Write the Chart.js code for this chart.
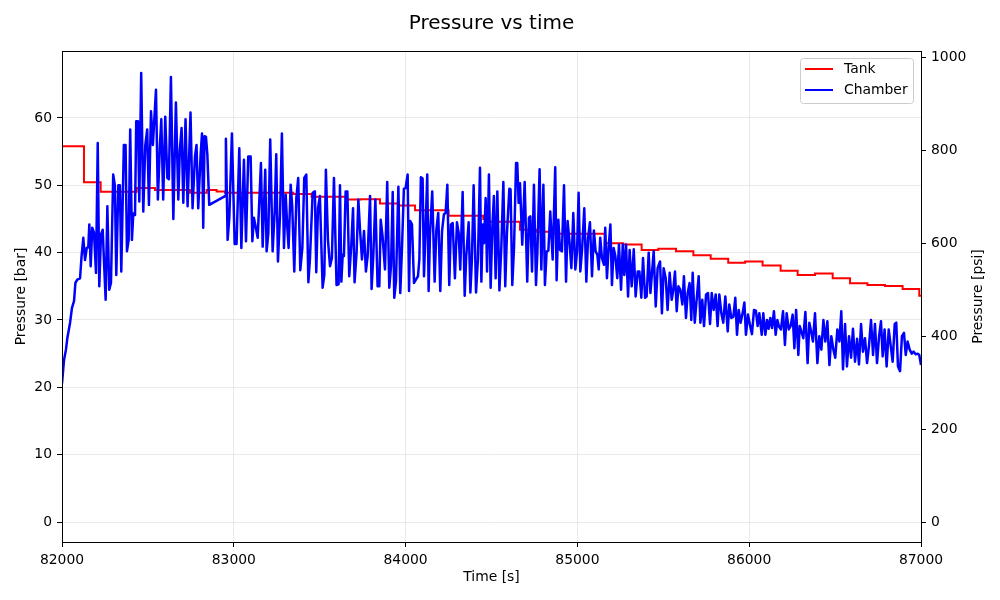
<!DOCTYPE html>
<html>
<head>
<meta charset="utf-8">
<title>Pressure vs time</title>
<script src="https://cdn.jsdelivr.net/npm/chart.js@4.4.1/dist/chart.umd.min.js"></script>
<style>
    html, body { margin: 0; padding: 0; background: #fff; }
    #wrap { width: 1000px; height: 600px; }
</style>
</head>
<body>
<div id="wrap"><canvas id="pressure-chart" width="1000" height="600"></canvas></div>
<script>
'use strict';

/**
 * Tick values
 */
var timeTicks = [82000, 83000, 84000, 85000, 86000, 87000];
var barTicks = [0, 10, 20, 30, 40, 50, 60];
var psiTicks = [0, 200, 400, 600, 800, 1000];

/**
 * Tank pressure [bar], value holds until the next time
 */
var tankTime = [
    82000, 82128, 82225, 82435, 82541, 82745, 82842, 82900, 82949, 83346,
    83453, 83657, 83740, 83851, 83958, 84055, 84250, 84452, 84470, 84666,
    84760, 84840, 85160, 85267, 85374, 85471, 85574, 85675, 85776, 85878,
    85976, 86078, 86183, 86282, 86383, 86486, 86587, 86688, 86790, 86893,
    86990, 87000
];
var tankBar = [
    55.8, 50.45, 49.06, 49.6, 49.3, 48.9, 49.3, 49.1, 48.9, 48.7,
    48.3, 47.9, 47.95, 47.3, 47.0, 46.3, 45.5, 45.0, 44.6, 43.4,
    43.1, 42.8, 41.4, 41.2, 40.4, 40.6, 40.2, 39.6, 39.1, 38.5,
    38.7, 38.1, 37.3, 36.7, 36.9, 36.2, 35.45, 35.2, 35.05, 34.6,
    33.6, 33.5
];

/**
 * Chamber pressure [bar]
 */
var chamberTime = [
    82000, 82012, 82023, 82031, 82047, 82058, 82070, 82078, 82089, 82105,
    82114, 82124, 82134, 82144, 82153, 82159, 82167, 82176, 82186, 82198,
    82208, 82217, 82227, 82237, 82244, 82254, 82264, 82275, 82285, 82298,
    82308, 82316, 82328, 82337, 82345, 82360, 82370, 82378, 82388, 82397,
    82407, 82415, 82425, 82432, 82442, 82450, 82461, 82473, 82485, 82496,
    82506, 82518, 82529, 82547, 82558, 82570, 82578, 82589, 82601, 82613,
    82622, 82634, 82648, 82663, 82677, 82686, 82696, 82706, 82719, 82731,
    82748, 82760, 82774, 82783, 82793, 82807, 82815, 82822, 82830, 82838,
    82846, 82857, 82949, 82954, 82964, 82974, 82989, 83005, 83016, 83032,
    83044, 83059, 83071, 83084, 83098, 83108, 83117, 83127, 83139, 83158,
    83168, 83183, 83191, 83201, 83212, 83226, 83238, 83247, 83257, 83269,
    83280, 83292, 83302, 83311, 83319, 83331, 83340, 83352, 83364, 83375,
    83387, 83399, 83410, 83422, 83434, 83443, 83459, 83472, 83480, 83490,
    83501, 83517, 83527, 83536, 83548, 83560, 83571, 83583, 83598, 83610,
    83618, 83626, 83634, 83641, 83651, 83661, 83672, 83684, 83694, 83703,
    83715, 83725, 83734, 83746, 83758, 83769, 83779, 83793, 83802, 83812,
    83824, 83837, 83847, 83855, 83866, 83880, 83893, 83905, 83915, 83925,
    83934, 83944, 83958, 83969, 83979, 83990, 84000, 84012, 84020, 84027,
    84037, 84049, 84060, 84072, 84080, 84089, 84099, 84107, 84115, 84126,
    84134, 84142, 84155, 84169, 84179, 84190, 84202, 84212, 84223, 84233,
    84243, 84254, 84264, 84274, 84287, 84299, 84309, 84318, 84332, 84344,
    84353, 84367, 84377, 84386, 84396, 84410, 84421, 84433, 84441, 84449,
    84456, 84466, 84474, 84485, 84495, 84505, 84514, 84524, 84534, 84546,
    84557, 84569, 84580, 84590, 84604, 84611, 84621, 84631, 84643, 84650,
    84658, 84666, 84679, 84693, 84708, 84718, 84726, 84736, 84747, 84759,
    84767, 84780, 84790, 84802, 84811, 84821, 84831, 84842, 84856, 84871,
    84879, 84889, 84899, 84910, 84922, 84934, 84943, 84953, 84965, 84976,
    84988, 84998, 85007, 85017, 85027, 85040, 85052, 85062, 85073, 85085,
    85096, 85106, 85116, 85124, 85133, 85143, 85155, 85162, 85172, 85182,
    85192, 85201, 85211, 85221, 85232, 85242, 85254, 85264, 85273, 85283,
    85295, 85304, 85316, 85328, 85339, 85351, 85361, 85372, 85382, 85394,
    85403, 85415, 85425, 85436, 85444, 85456, 85467, 85481, 85492, 85502,
    85514, 85525, 85537, 85549, 85558, 85568, 85578, 85588, 85599, 85611,
    85620, 85632, 85642, 85653, 85663, 85671, 85683, 85694, 85706, 85716,
    85727, 85737, 85749, 85760, 85772, 85782, 85793, 85805, 85816, 85826,
    85838, 85849, 85861, 85875, 85884, 85896, 85908, 85919, 85929, 85939,
    85950, 85960, 85972, 85981, 85993, 86005, 86016, 86028, 86039, 86049,
    86059, 86073, 86082, 86094, 86104, 86113, 86123, 86133, 86144, 86154,
    86164, 86174, 86185, 86197, 86208, 86218, 86230, 86241, 86253, 86263,
    86273, 86286, 86294, 86306, 86315, 86327, 86340, 86350, 86362, 86371,
    86383, 86397, 86408, 86420, 86432, 86443, 86455, 86467, 86478, 86490,
    86501, 86513, 86525, 86536, 86546, 86558, 86569, 86581, 86593, 86604,
    86616, 86628, 86639, 86651, 86662, 86674, 86686, 86697, 86709, 86721,
    86732, 86744, 86756, 86767, 86777, 86788, 86800, 86812, 86823, 86835,
    86847, 86856, 86866, 86878, 86889, 86901, 86911, 86922, 86934, 86946,
    86957, 86969, 86981, 86990, 87000
];
var chamberBar = [
    20.6, 24.1, 25.6, 27.3, 29.6, 31.8, 32.8, 35.5, 36.0, 36.2,
    39.5, 42.2, 38.9, 40.7, 40.8, 44.2, 38.0, 43.7, 43.0, 37.0,
    56.3, 35.0, 42.7, 43.4, 38.9, 33.0, 46.9, 34.5, 35.5, 51.6,
    49.9, 36.7, 50.0, 50.0, 37.2, 56.0, 56.0, 40.2, 41.9, 58.3,
    41.9, 45.8, 45.6, 59.5, 59.5, 47.6, 66.7, 46.1, 56.0, 58.3,
    47.1, 61.0, 56.0, 64.2, 47.9, 56.0, 59.8, 47.9, 60.2, 51.1,
    50.9, 66.1, 45.0, 62.3, 47.9, 55.3, 58.5, 47.4, 59.8, 46.9,
    60.8, 46.6, 54.3, 56.0, 46.6, 54.6, 57.7, 43.7, 57.3, 57.2,
    54.6, 47.1, 48.4, 56.9, 41.9, 45.2, 57.7, 41.3, 41.3, 55.5,
    40.7, 53.8, 41.7, 54.3, 54.3, 41.7, 45.2, 43.9, 42.2, 53.3,
    40.9, 52.3, 40.2, 42.9, 56.8, 40.2, 46.1, 54.6, 38.7, 45.6,
    57.7, 40.7, 48.6, 43.9, 40.7, 50.1, 46.9, 37.2, 48.1, 51.1,
    37.4, 40.7, 51.1, 51.6, 35.6, 39.0, 48.9, 49.1, 37.1, 46.6,
    48.4, 34.8, 36.7, 52.3, 41.9, 38.0, 39.2, 51.1, 35.2, 35.3,
    50.0, 35.7, 39.7, 39.5, 49.1, 49.1, 36.5, 41.2, 46.6, 35.6,
    40.2, 47.9, 43.7, 39.0, 43.2, 37.2, 39.5, 48.4, 34.6, 39.5,
    47.9, 35.0, 35.0, 44.9, 42.4, 37.5, 50.5, 34.8, 38.0, 49.0,
    33.3, 35.7, 49.8, 34.0, 40.7, 49.5, 49.6, 51.6, 34.3, 44.7,
    44.2, 35.5, 36.0, 36.5, 39.0, 51.2, 51.0, 36.5, 42.4, 51.6,
    34.3, 42.7, 49.1, 35.7, 43.4, 45.9, 34.3, 43.2, 45.7, 45.9,
    50.1, 35.2, 44.2, 44.4, 36.2, 44.5, 42.9, 37.5, 49.0, 33.6,
    39.5, 44.5, 34.1, 39.0, 50.0, 34.1, 39.0, 52.6, 35.7, 44.2,
    41.4, 48.1, 37.2, 51.6, 34.8, 43.9, 48.4, 36.2, 49.1, 34.4,
    40.7, 50.5, 35.0, 42.9, 49.5, 49.4, 35.2, 40.7, 53.3, 53.3,
    47.4, 50.3, 41.2, 50.5, 35.7, 45.2, 45.4, 37.2, 50.1, 35.2,
    40.0, 52.4, 37.5, 50.1, 35.2, 40.2, 40.3, 46.1, 39.0, 52.7,
    35.9, 44.9, 40.4, 40.2, 50.0, 35.7, 44.7, 41.9, 37.7, 45.9,
    37.5, 40.2, 48.9, 37.2, 40.4, 46.6, 35.7, 42.2, 44.5, 36.5,
    43.3, 40.2, 39.7, 37.5, 42.2, 39.2, 38.2, 43.7, 36.2, 40.9,
    44.2, 35.2, 40.7, 39.5, 36.2, 41.2, 34.5, 41.2, 36.7, 41.2,
    33.5, 40.4, 35.0, 40.5, 33.5, 37.2, 37.2, 33.3, 39.2, 33.3,
    33.5, 40.0, 34.0, 37.6, 40.2, 32.0, 37.7, 38.7, 31.0, 37.7,
    36.2, 31.5, 37.0, 33.0, 34.5, 37.2, 31.3, 35.0, 34.5, 32.3,
    36.5, 30.3, 34.0, 35.5, 30.0, 37.0, 29.6, 33.0, 36.5, 29.6,
    33.0, 29.1, 33.8, 34.0, 29.4, 34.0, 31.5, 33.8, 29.1, 33.8,
    31.0, 29.6, 33.5, 28.3, 32.3, 30.3, 30.5, 33.3, 27.8, 31.5,
    29.6, 30.8, 32.6, 27.8, 30.8, 29.2, 27.9, 31.5, 31.4, 29.1,
    31.0, 27.8, 31.0, 27.8, 30.0, 28.7, 30.3, 28.8, 31.3, 27.8,
    30.0, 29.0, 28.6, 31.3, 26.3, 31.0, 28.6, 29.1, 30.8, 25.8,
    31.5, 24.8, 29.1, 28.1, 27.3, 31.2, 23.6, 29.6, 28.1, 26.8,
    31.0, 23.6, 27.6, 25.6, 30.0, 26.8, 29.8, 23.3, 27.6, 25.6,
    24.4, 28.6, 26.8, 31.3, 22.7, 29.4, 23.1, 27.6, 24.4, 28.7,
    23.8, 27.2, 23.4, 29.4, 25.3, 27.3, 23.6, 26.1, 30.0, 24.8,
    29.4, 23.6, 27.6, 29.8, 24.6, 28.6, 23.1, 28.6, 26.3, 23.8,
    29.4, 29.6, 23.1, 22.4, 27.6, 28.1, 24.8, 26.8, 25.6, 25.0,
    25.3, 24.9, 25.0, 24.8, 23.3
];

/**
 * Axis ranges
 */
var PSI_PER_BAR = 14.5038;
var BAR_MIN = -2.97;
var BAR_MAX = 69.95;
var FONT = "'DejaVu Sans', 'Liberation Sans', sans-serif";

/**
 * Pair up x and y arrays
 */
function toPoints(xs, ys) {
    return xs.map(function(x, i) {
        return { x: x, y: ys[i] };
    });
}

/**
 * Replace auto ticks by a fixed list
 */
function fixedTicks(values) {
    return function(scale) {
        scale.ticks = values.map(function(v) { return { value: v }; });
    };
}

function plainLabel(value) {
    return String(value);
}

/**
 * Frame, title, axis labels and legend box (matplotlib look)
 */
var decorations = {
    id: 'decorations',
    afterDraw: function(chart) {
        var ctx = chart.ctx;
        var a = chart.chartArea;
        ctx.save();

        // axes frame
        ctx.strokeStyle = '#000';
        ctx.lineWidth = 1;
        ctx.strokeRect(Math.round(a.left) + 0.5, Math.round(a.top) + 0.5,
            Math.round(a.right - a.left), Math.round(a.bottom - a.top));

        // title
        ctx.fillStyle = '#000';
        ctx.textAlign = 'center';
        ctx.textBaseline = 'middle';
        ctx.font = '20px ' + FONT;
        ctx.fillText('Pressure vs time', (a.left + a.right) / 2, 24);

        // axis labels
        ctx.font = '13.9px ' + FONT;
        ctx.fillText('Time [s]', (a.left + a.right) / 2, 577);

        ctx.save();
        ctx.translate(21, (a.top + a.bottom) / 2);
        ctx.rotate(-Math.PI / 2);
        ctx.fillText('Pressure [bar]', 0, 0);
        ctx.restore();

        ctx.save();
        ctx.translate(978, (a.top + a.bottom) / 2);
        ctx.rotate(-Math.PI / 2);
        ctx.fillText('Pressure [psi]', 0, 0);
        ctx.restore();

        // legend
        var bx = 800.5, by = 58.5, bw = 113, bh = 45, r = 3;
        ctx.beginPath();
        ctx.moveTo(bx + r, by);
        ctx.lineTo(bx + bw - r, by);
        ctx.arcTo(bx + bw, by, bx + bw, by + r, r);
        ctx.lineTo(bx + bw, by + bh - r);
        ctx.arcTo(bx + bw, by + bh, bx + bw - r, by + bh, r);
        ctx.lineTo(bx + r, by + bh);
        ctx.arcTo(bx, by + bh, bx, by + bh - r, r);
        ctx.lineTo(bx, by + r);
        ctx.arcTo(bx, by, bx + r, by, r);
        ctx.closePath();
        ctx.fillStyle = 'rgba(255,255,255,0.8)';
        ctx.fill();
        ctx.strokeStyle = '#cccccc';
        ctx.stroke();

        ctx.textAlign = 'left';
        ctx.textBaseline = 'middle';
        chart.data.datasets.forEach(function(ds, i) {
            var ly = 69 + i * 21;
            ctx.strokeStyle = ds.borderColor;
            ctx.lineWidth = 2;
            ctx.beginPath();
            ctx.moveTo(805, ly);
            ctx.lineTo(833, ly);
            ctx.stroke();
            ctx.fillStyle = '#000';
            ctx.fillText(ds.label, 844, ly);
        });

        ctx.restore();
    }
};

var ctx = document.getElementById('pressure-chart');

new Chart(ctx, {
    type: 'line',
    data: {
        datasets: [{
            label: 'Tank',
            data: toPoints(tankTime, tankBar),
            borderColor: '#ff0000',
            borderWidth: 2,
            stepped: 'before',
            pointRadius: 0,
            order: 1,
            yAxisID: 'y'
        }, {
            label: 'Chamber',
            data: toPoints(chamberTime, chamberBar),
            borderColor: '#0000ff',
            borderWidth: 2.5,
            borderJoinStyle: 'round',
            pointRadius: 0,
            order: 0,
            yAxisID: 'y'
        }]
    },
    options: {
        responsive: false,
        animation: false,
        layout: { padding: { top: 51, left: 0, right: 0, bottom: 0 } },
        plugins: {
            legend: { display: false },
            title: { display: false },
            tooltip: { enabled: false }
        },
        scales: {
            x: {
                type: 'linear',
                min: timeTicks[0],
                max: timeTicks[timeTicks.length - 1],
                afterBuildTicks: fixedTicks(timeTicks),
                afterFit: function(scale) { scale.height = 58; },
                border: { display: false },
                grid: { color: '#e3e3e3', lineWidth: 0.8, tickColor: '#000', tickLength: 5, tickWidth: 1 },
                ticks: { color: '#000', font: { family: FONT, size: 13.9 }, padding: 5, maxRotation: 0, callback: plainLabel }
            },
            y: {
                position: 'left',
                min: BAR_MIN,
                max: BAR_MAX,
                afterBuildTicks: fixedTicks(barTicks),
                afterFit: function(scale) { scale.width = 62; },
                border: { display: false },
                grid: { color: '#e3e3e3', lineWidth: 0.8, tickColor: '#000', tickLength: 5, tickWidth: 1 },
                ticks: { color: '#000', font: { family: FONT, size: 13.9 }, padding: 5, callback: plainLabel }
            },
            y1: {
                position: 'right',
                min: BAR_MIN * PSI_PER_BAR,
                max: BAR_MAX * PSI_PER_BAR,
                afterBuildTicks: fixedTicks(psiTicks),
                afterFit: function(scale) { scale.width = 79; },
                border: { display: false },
                grid: { drawOnChartArea: false, tickColor: '#000', tickLength: 5, tickWidth: 1 },
                ticks: { color: '#000', font: { family: FONT, size: 13.9 }, padding: 5, callback: plainLabel }
            }
        }
    },
    plugins: [decorations]
});
</script>
</body>
</html>
